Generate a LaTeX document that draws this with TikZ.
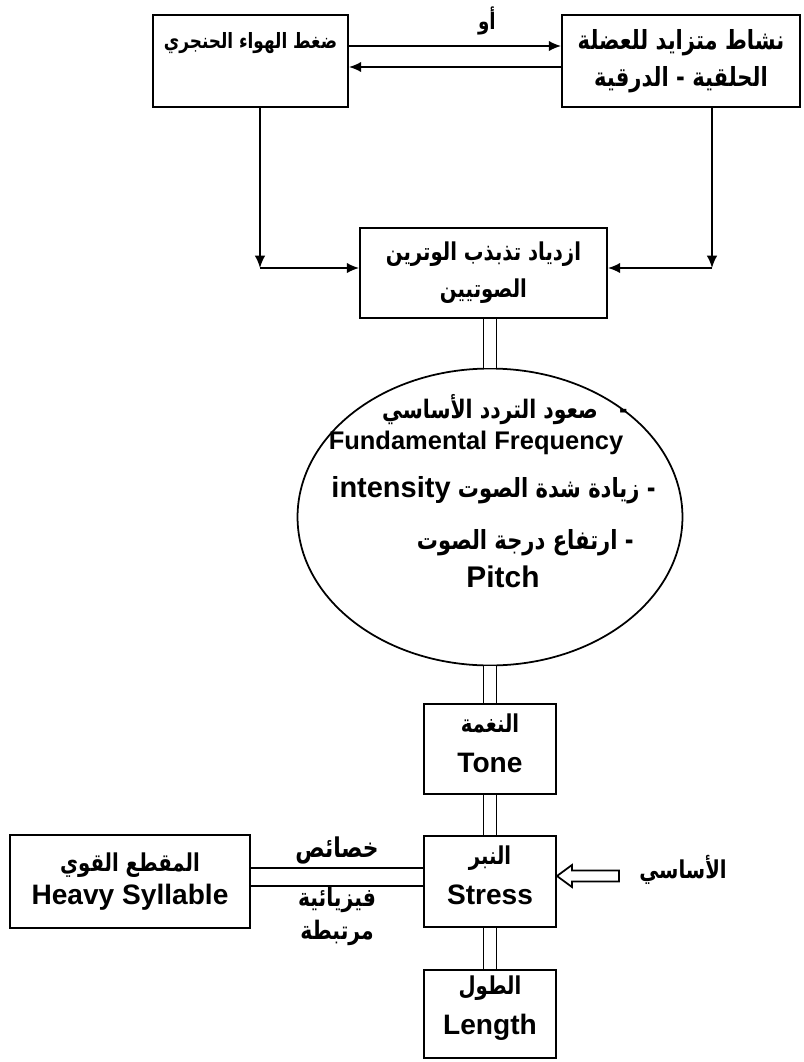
\documentclass[tikz,border=0pt]{standalone}
\usepackage{fontspec}
\setmainfont{Liberation Sans}
\newfontfamily\arabicfont[Script=Arabic, FakeStretch=0.8]{DejaVu Sans}
\TeXXeTstate=1
\usetikzlibrary{arrows.meta,positioning,shapes.geometric}
\newcommand{\ar}[1]{{\arabicfont\bfseries #1}}
\newcommand{\ars}[2]{{\fontsize{#1}{21}\selectfont\arabicfont\bfseries #2}}

\begin{document}
\begin{tikzpicture}[x=0.02cm, y=-0.02cm]
    % Define styles
    \tikzset{
      box/.style={rectangle, draw=black, line width=1.1pt, align=center, inner sep=2pt,
                  font=\fontsize{16}{21}\selectfont\bfseries},
      arrow/.style={line width=1pt, -{Latex[length=7pt,width=6pt]}},
      link/.style={line width=1pt, double, double distance=6.5pt},
      hlink/.style={line width=1pt, double, double distance=9pt},
      txt/.style={inner sep=0pt, font=\fontsize{16}{19}\selectfont\bfseries},
      artxt/.style={inner sep=0pt, font=\fontsize{14.5}{19}\selectfont}
    }
    \useasboundingbox (0,0) rectangle (804,1062);

    % Nodes
    \node [box, minimum width=3.9cm, minimum height=1.84cm] (air) at (250.5,61) {\ars{12}{\beginR ضغط الهواء الحنجري\endR}\\[2pt] ~};
    \node [box, minimum width=4.76cm, minimum height=1.84cm] (muscle) at (681,61) {\ars{15}{\beginR نشاط متزايد للعضلة\endR}\\\ars{15}{\beginR الحلقية - الدرقية\endR}};
    \node [box, minimum width=4.94cm, minimum height=1.8cm] (vibr) at (483.5,273) {\ars{14}{\beginR ازدياد تذبذب الوترين\endR}\\\ars{14}{\beginR الصوتيين\endR}};
    \node [ellipse, draw=black, line width=1pt, minimum width=7.7cm, minimum height=5.94cm] (ell) at (490,517) {};
    \node [box, minimum width=2.64cm, minimum height=1.8cm, text depth=7pt] (tone) at (490,749) {\ars{14}{\beginR النغمة\endR}\\[2pt]Tone};
    \node [box, minimum width=2.64cm, minimum height=1.82cm, text depth=7pt] (stress) at (490,881.5) {\ars{14}{\beginR النبر\endR}\\[2pt]Stress};
    \node [box, minimum width=2.64cm, minimum height=1.76cm, text depth=10pt] (len) at (490,1014) {\ars{14}{\beginR الطول\endR}\\[2pt]Length};
    \node [box, minimum width=4.8cm, minimum height=1.86cm, font=\fontsize{16}{18.5}\selectfont\bfseries] (heavy) at (130,881.5) {\ars{14}{\beginR المقطع القوي\endR}\\Heavy Syllable};

    % texts inside the ellipse
    \node [artxt, anchor=east] (freqar) at (628,410) {\ar{\beginR -\ \ \ صعود التردد الأساسي\endR}};
    \node [txt, font=\fontsize{14.5}{17}\selectfont\bfseries] (freq) at (476,443) {Fundamental Frequency};
    \node [artxt, font=\fontsize{15}{19}\selectfont, anchor=east] (inten) at (656,490) {\beginR\ar{- زيادة شدة الصوت} {\fontsize{16.5}{19}\selectfont\bfseries\beginL intensity\endL}\endR};
    \node [artxt, font=\fontsize{15}{19}\selectfont, anchor=east] (pitchar) at (634,543) {\ar{\beginR - ارتفاع درجة الصوت\endR}};
    \node [txt, font=\fontsize{17}{20}\selectfont\bfseries] (pitch) at (503,577) {Pitch};

    % side label
    \node [artxt, font=\fontsize{14}{19}\selectfont] (basic) at (683,870) {\ar{\beginR الأساسي\endR}};
    \coordinate (lcorner) at (260,268);
    \coordinate (rcorner) at (712,268);

    % Arrows
    \draw [arrow] ([yshift=0.3cm]air.east) -- ([yshift=0.3cm]muscle.west)
        node [pos=0.65, above=6pt, artxt, font=\fontsize{13}{19}\selectfont] (or) {\ar{\beginR أو\endR}};
    \draw [arrow] ([yshift=-0.12cm]muscle.west) -- ([yshift=-0.12cm]air.east);
    \draw [arrow] (air.south -| lcorner) -- (lcorner);
    \draw [arrow] (lcorner) -- (vibr.west |- lcorner);
    \draw [arrow] (muscle.south -| rcorner) -- (rcorner);
    \draw [arrow] (rcorner) -- (vibr.east |- rcorner);

    % double links
    \draw [link] (vibr.south -| ell.north) -- (ell.north);
    \draw [link] (ell.south) -- (tone.north);
    \draw [link] (tone) -- (stress);
    \draw [link] (stress) -- (len);
    \draw [hlink] ([yshift=0.09cm]heavy.east) -- ([yshift=0.09cm]stress.west)
        node [midway, above=7pt, artxt, font=\fontsize{15.5}{19}\selectfont] (props) {\ar{\beginR خصائص\endR}}
        node [midway, below=5pt, artxt, align=center] (physic) {\ar{\beginR فيزيائية\endR}\\\ar{\beginR مرتبطة\endR}};

    % hollow arrow into the stress box
    \draw [line width=1pt] ([yshift=0.11cm]stress.east) -- ++(15,-11) -- ++(0,5.5) -- ++(47,0)
        -- ++(0,11) -- ++(-47,0) -- ++(0,5.5) -- cycle;
\end{tikzpicture}
\end{document}
